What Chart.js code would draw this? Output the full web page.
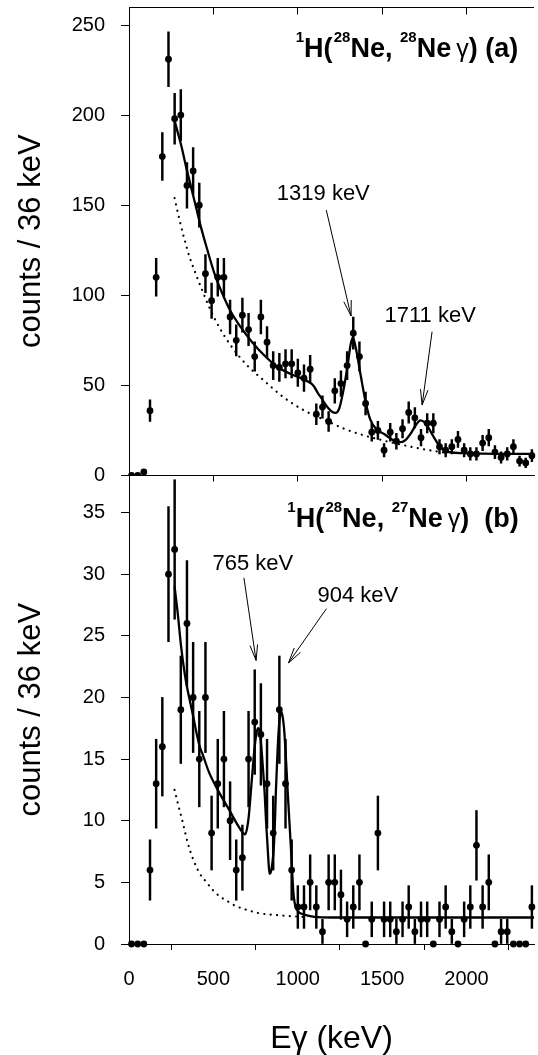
<!DOCTYPE html>
<html>
<head>
<meta charset="utf-8">
<title>28Ne gamma spectra</title>
<script src="https://cdn.jsdelivr.net/npm/chart.js@4.4.1/dist/chart.umd.min.js"></script>
<style>
  html, body { margin: 0; padding: 0; background: #fff; width: 538px; height: 1055px; overflow: hidden; }
  canvas { position: absolute; left: 0; }
  #panelA { top: 0; z-index: 2; }
  #panelB { top: 470px; z-index: 1; }
</style>
</head>
<body>
<canvas id="panelA" width="538" height="492"></canvas>
<canvas id="panelB" width="538" height="585"></canvas>
<script>
// ---- spectrum binning (keV) ----
const BIN_START = 15;
const BIN_STEP = 36.5;

// counts per bin, panel (a): 1H(28Ne, 28Ne gamma)
const countsA = [0, 0, 2, 36, 110, 177, 231, 198, 200, 161, 169, 150, 112, 97, 110, 110, 88, 75, 89, 81,
  66, 88, 74, 61, 60, 62, 62, 57, 54, 59, 34, 38, 30, 47, 51, 61, 79, 66, 40, 24,
  25, 14, 24, 19, 26, 35, 32, 21, 29, 29, 16, 14, 16, 20, 14, 12, 12, 18, 21, 13,
  10, 12, 16, 8, 7, 11];

// counts per bin, panel (b): 1H(28Ne, 27Ne gamma)
const countsB = [0, 0, 0, 6, 13, 16, 30, 32, 19, 26, 20, 15, 20, 9, 13, 15, 10, 6, 7, 15,
  18, 17, 13, 9, 19, 13, 6, 3, 3, 5, 3, 1, 5, 5, 4, 2, 3, 5, 0, 2,
  9, 2, 2, 1, 2, 3, 1, 2, 2, 0, 2, 3, 1, 0, 2, 3, 8, 3, 5, 0,
  1, 1, 0, 0, 0, 3];

// fitted response (solid) and background (dotted): [keV, counts]
const fitA = [[270,197],[290,190],[310,183],[339,171],[368,160],[397,149],[426,138],[465,125],[505,112.5],
  [553,101],[603,91],[661,82.5],[730,74],[798,67],[876,60.5],[955,56.5],[1033,53.5],[1062,52],[1092,50],
  [1121,45.5],[1140,43],[1160,40],[1180,37.5],[1205,35.3],[1225,34.8],[1245,37],[1268,46],[1297,62],
  [1312,72],[1326,76.5],[1340,72.5],[1352,67],[1375,54.5],[1404,40],[1430,31],[1463,26],[1512,23],
  [1571,19.3],[1610,18.5],[1640,19.8],[1669,23.2],[1700,28],[1727,30.6],[1748,29.8],[1766,27.8],
  [1806,21.3],[1845,15.7],[1875,13.5],[1903,12.9],[1982,12.4],[2100,12.1],[2250,12],[2400,12]];
const backgroundA = [[270,154],[299,142],[329,131],[358,121.5],[387,114],[426,104.6],[475,93.5],[534,82.4],
  [603,72.2],[691,62],[798,52.8],[915,43.5],[1040,36],[1170,30.4],[1268,26.2],[1395,22.2],[1500,19.6],
  [1590,17.6],[1700,15.4],[1786,13.9],[1880,12.6]];
const fitB = [[270,29],[289,26.8],[309,24.1],[334,21.6],[377,18.7],[417,16.1],[436,15.4],[475,13.9],
  [534,12.3],[593,10.9],[651,9.5],[688,8.9],[700,9.4],[710,10.4],[720,12],[730,13.7],[742,15.6],
  [753,16.9],[765,17.5],[775,17.2],[784,16],[794,14.2],[804,12.2],[812,10],[820,8.2],[827,6.6],
  [833,5.7],[840,5.8],[848,6.4],[857,7.6],[864,9.6],[870,12.2],[878,14.9],[886,17.1],[894,18.4],
  [902,18.8],[911,18.4],[921,17.1],[931,14.8],[941,12.2],[951,9.8],[961,7.4],[968,5.6],[974,4.2],
  [981,3.4],[988,3.0],[1005,2.6],[1023,2.45],[1060,2.3],[1100,2.2],[1200,2.15],[2400,2.15]];
const backgroundB = [[270,12.5],[295,11.1],[320,9.8],[348,8.2],[382,6.8],[420,5.7],[460,5.0],[495,4.4],
  [534,3.9],[580,3.5],[630,3.1],[690,2.8],[770,2.5],[870,2.35],[964,2.25],[1040,2.2]];

// axis ticks
const energyTicks = [0, 500, 1000, 1500, 2000];
const countTicksA = [0, 50, 100, 150, 200, 250];
const countTicksB = [0, 5, 10, 15, 20, 25, 30, 35];

// reaction labels: [text, style]
const reactionA = [['1','sup'],['H(','main'],['\u200A28','sup'],['Ne, ','main'],['28','sup'],['Ne','main'],['\u2009\u03B3','greek'],[') (a)','main']];
const reactionB = [['1','sup'],['H(','main'],['\u200A28','sup'],['Ne, ','main'],['27','sup'],['Ne','main'],['\u2009\u03B3','greek'],[')  (b)','main']];

// gamma-line markers: label anchor (left, middle), arrow tail and tip, all in [keV, counts]
const linesA = [
  { text: '1319 keV', at: [876, 156.2], from: [1169, 147.3], to: [1316, 88.5] },
  { text: '1711 keV', at: [1514, 88.8], from: [1796, 79.8], to: [1737, 39.1] }
];
const linesB = [
  { text: '765 keV', at: [495, 30.8], from: [681, 29.7], to: [753, 23.0] },
  { text: '904 keV', at: [1117, 28.2], from: [1170, 27.2], to: [945, 22.8] }
];

const FONT = '"Liberation Sans", Arial, Helvetica, sans-serif';
Chart.defaults.font.family = FONT;
Chart.defaults.color = '#000';

const xy = pts => pts.map(([x, y]) => ({ x, y }));
const binCentre = i => BIN_START + BIN_STEP * i;
const points = counts => counts.map((c, i) => ({ x: binCentre(i), y: c }));
const errorBars = counts => counts.flatMap((c, i) =>
  c > 0 ? [{ x: binCentre(i), y: [c - Math.sqrt(c), c + Math.sqrt(c)] }] : []);

// frame: top border with inward tick marks
const framePlugin = {
  id: 'frame',
  afterDraw(chart, args, opts) {
    const { ctx, chartArea: a, scales: { x } } = chart;
    const yTop = Math.round(a.top - 0.5) + 0.5;
    ctx.save();
    ctx.strokeStyle = '#000';
    ctx.lineWidth = 1;
    ctx.beginPath();
    ctx.moveTo(a.left, yTop);
    ctx.lineTo(a.right, yTop);
    energyTicks.forEach(v => {
      if (v <= x.min) return;
      const px = Math.round(x.getPixelForValue(v) - 0.5) + 0.5;
      ctx.moveTo(px, yTop);
      ctx.lineTo(px, yTop + opts.tickLength);
    });
    ctx.stroke();
    ctx.restore();
  }
};

// labelled arrows and reaction title
const notesPlugin = {
  id: 'notes',
  afterDraw(chart, args, opts) {
    const { ctx, scales: { x, y } } = chart;
    ctx.save();
    ctx.fillStyle = '#000';
    ctx.strokeStyle = '#000';
    ctx.lineWidth = 1;
    ctx.font = '22px ' + FONT;
    ctx.textAlign = 'left';
    ctx.textBaseline = 'middle';
    opts.lines.forEach(n => {
      ctx.fillText(n.text, x.getPixelForValue(n.at[0]), y.getPixelForValue(n.at[1]));
      const x0 = x.getPixelForValue(n.from[0]), y0 = y.getPixelForValue(n.from[1]);
      const x1 = x.getPixelForValue(n.to[0]), y1 = y.getPixelForValue(n.to[1]);
      const ang = Math.atan2(y1 - y0, x1 - x0);
      const L = 16, h = 0.24;
      ctx.beginPath();
      ctx.moveTo(x0, y0);
      ctx.lineTo(x1, y1);
      [-1, 1].forEach(s => {
        ctx.moveTo(x1, y1);
        ctx.lineTo(x1 - L * Math.cos(ang + s * h), y1 - L * Math.sin(ang + s * h));
      });
      ctx.stroke();
    });

    // reaction title, right aligned
    const fonts = { main: 'bold 27px ' + FONT, sup: 'bold 15px ' + FONT, greek: '25px ' + FONT };
    const rise = { main: 0, sup: -15, greek: 0 };
    const t = opts.title;
    let width = 0;
    t.parts.forEach(([s, k]) => { ctx.font = fonts[k]; width += ctx.measureText(s).width; });
    let px = x.getPixelForValue(t.right[0]) - width;
    const base = y.getPixelForValue(t.right[1]);
    ctx.textBaseline = 'alphabetic';
    t.parts.forEach(([s, k]) => {
      ctx.font = fonts[k];
      ctx.fillText(s, px, base + rise[k]);
      px += ctx.measureText(s).width;
    });
    ctx.restore();
  }
};

function datasets(counts, fit, background, clip) {
  return [
    { type: 'scatter', data: points(counts), pointRadius: 3.4, pointBackgroundColor: '#000',
      pointBorderWidth: 0, borderWidth: 0, order: 0, clip },
    { type: 'line', data: xy(fit), borderColor: '#000', borderWidth: 2.3, pointRadius: 0,
      cubicInterpolationMode: 'monotone', fill: false, order: 1, clip },
    { type: 'bar', data: errorBars(counts), backgroundColor: '#000', borderWidth: 0,
      barThickness: 1.8, order: 2, clip },
    { type: 'line', data: xy(background), borderColor: '#000', borderWidth: 2.2, pointRadius: 0,
      borderDash: [0.1, 6.3], borderCapStyle: 'round', cubicInterpolationMode: 'monotone',
      fill: false, order: 3, clip }
  ];
}

// fixed box sizes so both panels share the same plot frame
const noPad = s => { s.paddingTop = 0; s.paddingBottom = 0; s.paddingLeft = 0; s.paddingRight = 0; };

function yAxis(max, ticks) {
  return {
    type: 'linear', min: 0, max,
    afterBuildTicks: s => { s.ticks = ticks.map(value => ({ value })); },
    afterFit: s => { s.width = 129; noPad(s); },
    grid: { drawOnChartArea: false, tickLength: 8, color: '#000', lineWidth: 1 },
    border: { color: '#000', width: 1 },
    ticks: { font: { size: 20 }, color: '#000', padding: 16, callback: v => String(v) },
    title: { display: true, text: 'counts / 36 keV', color: '#000',
      font: { size: 31, lineHeight: 1 }, padding: { top: 16, bottom: 0 } }
  };
}

const common = {
  responsive: false,
  animation: false,
  events: [],
  plugins: { legend: { display: false }, tooltip: { enabled: false } }
};

new Chart(document.getElementById('panelA'), {
  type: 'scatter',
  data: { datasets: datasets(countsA, fitA, backgroundA, { left: 10, top: 10, right: 10, bottom: 0 }) },
  options: {
    ...common,
    layout: { padding: { top: 7, left: 0, right: 0, bottom: 0 } },
    plugins: { ...common.plugins,
      frame: { tickLength: 7 },
      notes: { lines: linesA, title: { parts: reactionA, right: [2306, 232.3] } } },
    scales: {
      x: { type: 'linear', min: 0, max: 2400, offset: false,
        afterBuildTicks: s => { s.ticks = energyTicks.map(value => ({ value })); },
        afterFit: s => { s.height = 16.5; noPad(s); },
        ticks: { display: false },
        grid: { drawOnChartArea: false, drawTicks: false, color: '#000' },
        border: { color: '#000', width: 1 } },
      y: yAxis(260, countTicksA)
    }
  },
  plugins: [framePlugin, notesPlugin]
});

new Chart(document.getElementById('panelB'), {
  type: 'scatter',
  data: { datasets: datasets(countsB, fitB, backgroundB, false) },
  options: {
    ...common,
    layout: { padding: { top: 5.5, left: 0, right: 0, bottom: 0 } },
    plugins: { ...common.plugins,
      frame: { tickLength: 6 },
      notes: { lines: linesB, title: { parts: reactionB, right: [2310, 33.8] } } },
    scales: {
      x: { type: 'linear', min: 0, max: 2400, offset: false,
        afterBuildTicks: s => { s.ticks = energyTicks.map(value => ({ value })); },
        afterFit: s => { s.height = 111; noPad(s); },
        ticks: { font: { size: 20 }, color: '#000', padding: 17, maxRotation: 0, autoSkip: false,
          callback: v => String(v) },
        grid: { drawOnChartArea: false, tickLength: 6, color: '#000', lineWidth: 1 },
        border: { color: '#000', width: 1 },
        title: { display: true, text: 'E\u03B3 (keV)', color: '#000',
          font: { size: 32, lineHeight: 1 }, padding: { top: 0, bottom: 0 } } },
      y: yAxis(38, countTicksB)
    }
  },
  plugins: [framePlugin, notesPlugin]
});
</script>
</body>
</html>
